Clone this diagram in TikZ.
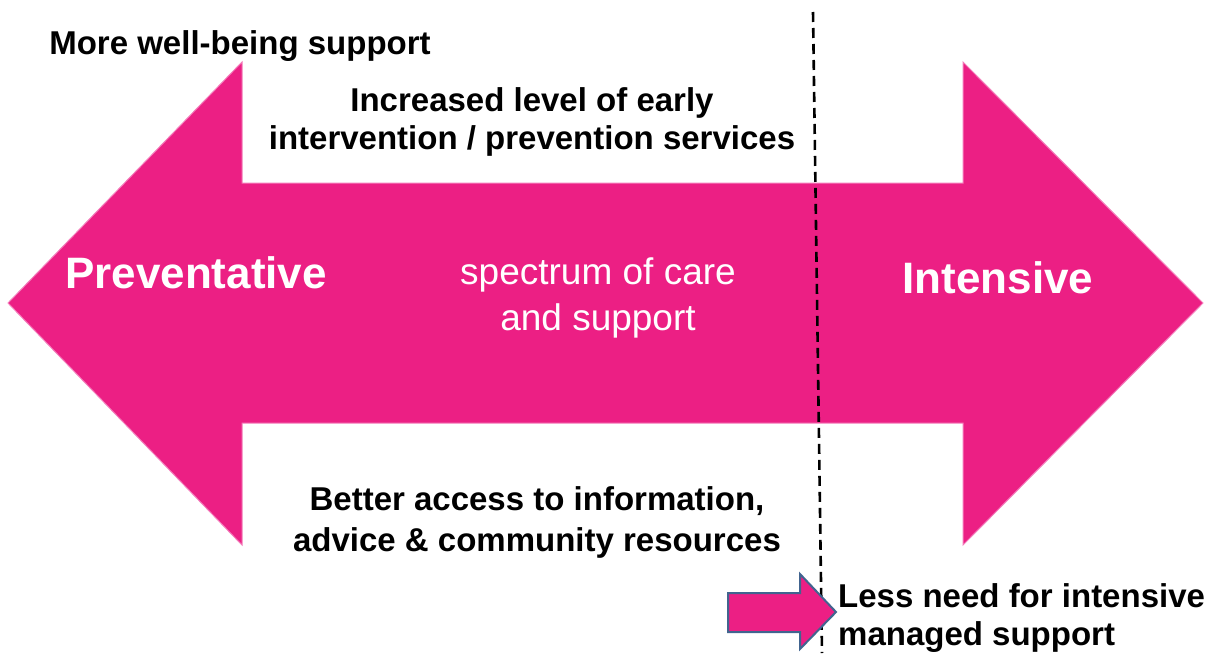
\documentclass[tikz,border=0pt]{standalone}
\usepackage{fontspec}
\setmainfont{Liberation Sans}
\definecolor{pinkfill}{HTML}{EC1F84}
\definecolor{pinkedge}{HTML}{F47DBB}
\definecolor{slateedge}{HTML}{41648F}
\begin{document}
\begin{tikzpicture}[x=1pt,y=-1pt,
  blacklabel/.style={inner sep=0pt, align=center, text=black, font=\bfseries\fontsize{33}{38}\selectfont},
  whitebig/.style={inner sep=0pt, text=white, font=\bfseries\fontsize{44}{50}\selectfont},
  whitereg/.style={inner sep=0pt, align=center, text=white, font=\fontsize{37}{46}\selectfont}]
\useasboundingbox (0,0) rectangle (1215,653);
% big double arrow
\path[fill=pinkfill, draw=pinkedge, line width=1pt]
  (8,303) -- (242,62) -- (242,183) -- (963,183) -- (963,62) -- (1203,303)
  -- (963,545) -- (963,423) -- (242,423) -- (242,545) -- cycle;
% dashed divider
\coordinate (dtop) at (813,12);
\coordinate (dbot) at (822,653);
\draw[black, line width=2.6pt, dash pattern=on 10pt off 6pt] (dtop) -- (dbot);
% small arrow
\path[fill=pinkfill, draw=slateedge, line width=2pt, line join=miter]
  (728,593) -- (800,593) -- (800,574) -- (836,612) -- (800,649) -- (800,632) -- (728,632) -- cycle;
% texts
\node[blacklabel, anchor=base] (well) at (240,54) {More well-being support};
\node[blacklabel, anchor=north] (early) at (532,87) {Increased level of early\\intervention / prevention services};
\node[whitebig, anchor=base] (prev) at (196,288) {Preventative};
\node[whitebig, anchor=base] (inten) at (998,293) {Intensive};
\node[whitereg, anchor=north] (spec) at (598,258) {spectrum of care\\and support};
\node[blacklabel, anchor=north, font=\bfseries\fontsize{33}{41}\selectfont] (access) at (537,486) {Better access to information,\\advice \& community resources};
\node[blacklabel, anchor=north west, align=left] (less) at (838,583) {Less need for intensive\\managed support};
\end{tikzpicture}
\end{document}
